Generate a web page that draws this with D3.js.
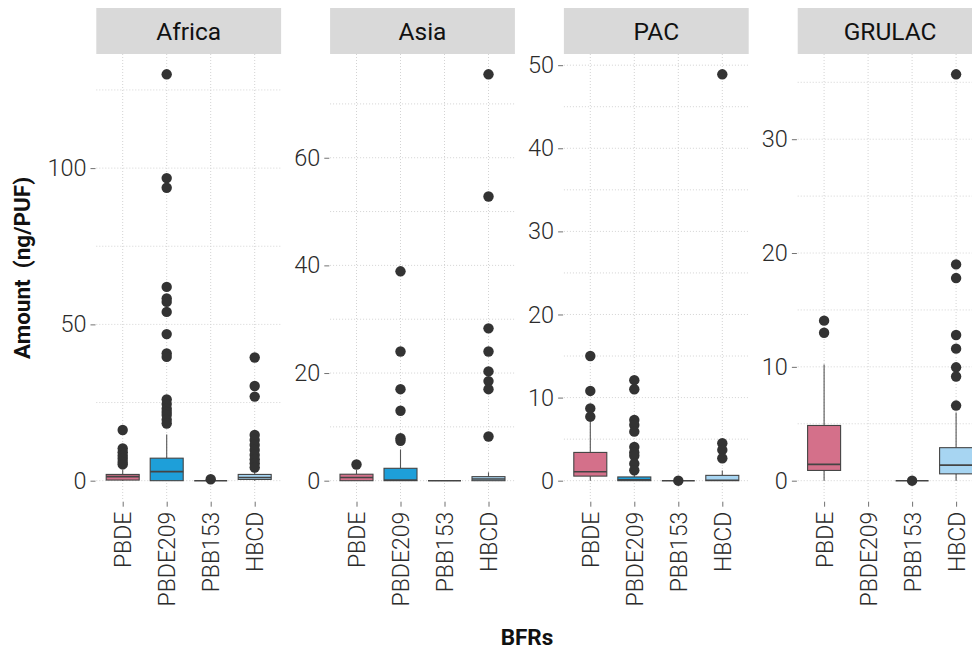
<!DOCTYPE html>
<html><head><meta charset="utf-8">
<script src="https://cdn.jsdelivr.net/npm/d3@7"></script>
<style>body{margin:0;background:#fff}svg{display:block}</style>
</head><body>
<svg id="chart" width="972" height="651"></svg>
<script>
const regions = ["Africa", "Asia", "PAC", "GRULAC"];
const categories = ["PBDE", "PBDE209", "PBB153", "HBCD"];
const categoryColors = ["#d4708a", "#1e9fd9", "#333333", "#a7d5f2"];

// boxes: [whiskerLow, q1, median, q3, whiskerHigh] per category (null = no data)
const africaBoxes = [[0, 0.2, 1.3, 2.0, 3.4], [0, 0, 2.9, 7.2, 14.8], [0, 0, 0, 0, 0], [0, 0.4, 1.0, 2.0, 3.4]];
const asiaBoxes = [[0, 0, 0.6, 1.2, 2.0], [0, 0, 0.1, 2.3, 5.8], [0, 0, 0, 0, 0], [0, 0, 0.3, 0.75, 1.55]];
const pacBoxes = [[0, 0.55, 1.08, 3.4, 7.1], [0, 0, 0.1, 0.45, 1.0], [0, 0, 0, 0, 0], [0, 0, 0.05, 0.64, 1.24]];
const grulacBoxes = [[0, 0.9, 1.43, 4.85, 10.2], null, [0, 0, 0, 0, 0], [0, 0.6, 1.37, 2.9, 6.0]];

const africaOutliers = [
  [16.2, 10.3, 9.1, 8.0, 7.0, 6.0, 5.2],
  [130, 96.8, 93.7, 62.0, 58.3, 57.2, 54.0, 46.9, 40.7, 39.6, 26.0, 24.5, 23.0, 22.0, 21.0, 19.5, 18.3],
  [0.45],
  [39.4, 30.3, 26.9, 14.6, 13.0, 11.4, 9.8, 8.2, 6.8, 5.5, 4.2]
];
const asiaOutliers = [
  [3.0],
  [38.9, 24.0, 17.0, 13.0, 7.9, 7.4],
  [],
  [75.5, 52.8, 28.3, 24.0, 20.3, 18.5, 17.0, 8.2]
];
const pacOutliers = [
  [15.0, 10.8, 8.7, 7.7],
  [12.1, 11.0, 7.3, 6.7, 5.9, 4.05, 3.4, 3.0, 2.05, 1.25],
  [0],
  [48.9, 4.5, 3.7, 2.7]
];
const grulacOutliers = [
  [14.06, 13.0],
  [],
  [0],
  [35.7, 19.0, 17.8, 12.8, 11.6, 9.96, 9.15, 6.6]
];

const africaTicks = [0, 50, 100];
const asiaTicks = [0, 20, 40, 60];
const pacTicks = [0, 10, 20, 30, 40, 50];
const grulacTicks = [0, 10, 20, 30];

const allBoxes = [africaBoxes, asiaBoxes, pacBoxes, grulacBoxes];
const allOutliers = [africaOutliers, asiaOutliers, pacOutliers, grulacOutliers];
const allTicks = [africaTicks, asiaTicks, pacTicks, grulacTicks];

const svg = d3.select("#chart");
const panelLeft0 = 96.3, panelStep = 233.8, panelW = 184.8;
const panelTop = 54, panelBottom = 501, stripTop = 8;
const tickFont = "Roboto, 'Noto Sans', sans-serif";
const gridColor = "#d3d3d3";

regions.forEach((region, ri) => {
  const left = panelLeft0 + ri * panelStep;
  const right = left + panelW;
  const boxes = allBoxes[ri], outs = allOutliers[ri];
  const vals = [];
  boxes.forEach(b => { if (b) vals.push(...b); });
  outs.forEach(o => vals.push(...o));
  const lo = d3.min(vals), hi = d3.max(vals);
  const pad = (hi - lo) * 0.05;
  const y = d3.scaleLinear().domain([lo - pad, hi + pad]).range([panelBottom, panelTop]);
  const x = d3.scalePoint().domain(categories).range([left, right]).padding(0.6);

  const g = svg.append("g");
  const ticks = allTicks[ri];
  const step = ticks[1] - ticks[0];
  const minor = [];
  for (let v = ticks[0] - step / 2; v <= hi + pad; v += step) if (v >= lo - pad) minor.push(v);
  g.selectAll(".minor").data(minor).join("line")
    .attr("x1", left).attr("x2", right)
    .attr("y1", d => y(d)).attr("y2", d => y(d))
    .attr("stroke", gridColor).attr("stroke-width", 1).attr("stroke-dasharray", "1,2");
  g.selectAll(".major").data(ticks).join("line")
    .attr("x1", left).attr("x2", right)
    .attr("y1", d => y(d)).attr("y2", d => y(d))
    .attr("stroke", gridColor).attr("stroke-width", 1).attr("stroke-dasharray", "1,2");
  g.selectAll(".vgrid").data(categories).join("line")
    .attr("x1", d => x(d)).attr("x2", d => x(d))
    .attr("y1", panelTop).attr("y2", panelBottom)
    .attr("stroke", gridColor).attr("stroke-width", 1).attr("stroke-dasharray", "1,2");

  // y axis
  const yAxis = d3.axisLeft(y).tickValues(ticks).tickSize(5).tickPadding(4);
  const ya = svg.append("g").attr("transform", `translate(${left - 0.8},0)`).call(yAxis);
  ya.select(".domain").remove();
  ya.selectAll(".tick line").attr("stroke", "#4d4d4d").attr("stroke-width", 0.8);
  ya.selectAll("text").attr("font-family", tickFont).attr("font-weight", 300)
    .attr("font-size", 23.5).attr("fill", "#2b2b2b");

  // x axis
  const xAxis = d3.axisBottom(x).tickSize(5).tickPadding(4);
  const xa = svg.append("g").attr("transform", `translate(0,${panelBottom + 0.7})`).call(xAxis);
  xa.select(".domain").remove();
  xa.selectAll(".tick line").attr("stroke", "#4d4d4d").attr("stroke-width", 0.8);
  xa.selectAll("text").attr("font-family", tickFont).attr("font-weight", 300)
    .attr("font-size", 23).attr("fill", "#2b2b2b")
    .attr("text-anchor", "end").attr("dy", "0.35em")
    .attr("transform", "translate(0,5) rotate(-90)").attr("x", -5).attr("y", 0);

  // strip
  svg.append("rect").attr("x", left).attr("y", stripTop).attr("width", panelW)
    .attr("height", panelTop - stripTop).attr("fill", "#d9d9d9");
  svg.append("text").attr("x", left + panelW / 2).attr("y", (stripTop + panelTop) / 2)
    .attr("dy", "0.36em").attr("text-anchor", "middle")
    .attr("font-family", tickFont).attr("font-size", 24.5).attr("fill", "#111").text(region);

  // boxes
  const bw = 33;
  categories.forEach((c, ci) => {
    const b = boxes[ci];
    if (!b) return;
    const cx = x(c);
    const bg = svg.append("g");
    bg.append("line").attr("x1", cx).attr("x2", cx).attr("y1", y(b[3])).attr("y2", y(b[4]))
      .attr("stroke", "#555").attr("stroke-width", 1.1);
    bg.append("line").attr("x1", cx).attr("x2", cx).attr("y1", y(b[0])).attr("y2", y(b[1]))
      .attr("stroke", "#555").attr("stroke-width", 1.1);
    bg.append("rect").attr("x", cx - bw / 2).attr("width", bw)
      .attr("y", y(b[3])).attr("height", Math.max(0, y(b[1]) - y(b[3])))
      .attr("fill", categoryColors[ci]).attr("stroke", "#444").attr("stroke-width", 1.1);
    bg.append("line").attr("x1", cx - bw / 2).attr("x2", cx + bw / 2)
      .attr("y1", y(b[2])).attr("y2", y(b[2]))
      .attr("stroke", "#444").attr("stroke-width", 1.6);
    bg.selectAll("circle").data(outs[ci]).join("circle")
      .attr("cx", cx).attr("cy", d => y(d)).attr("r", 5.2).attr("fill", "#333");
  });
});

// axis titles
svg.append("text").attr("transform", "translate(30,268) rotate(-90)")
  .attr("text-anchor", "middle").attr("font-family", tickFont).attr("font-weight", 700)
  .attr("font-size", 22.5).attr("fill", "#111").style("white-space", "pre")
  .text("Amount  (ng/PUF)");
svg.append("text").attr("x", 527).attr("y", 645)
  .attr("text-anchor", "middle").attr("font-family", tickFont).attr("font-weight", 700)
  .attr("font-size", 22.5).attr("fill", "#111").text("BFRs");
</script>
</body></html>
